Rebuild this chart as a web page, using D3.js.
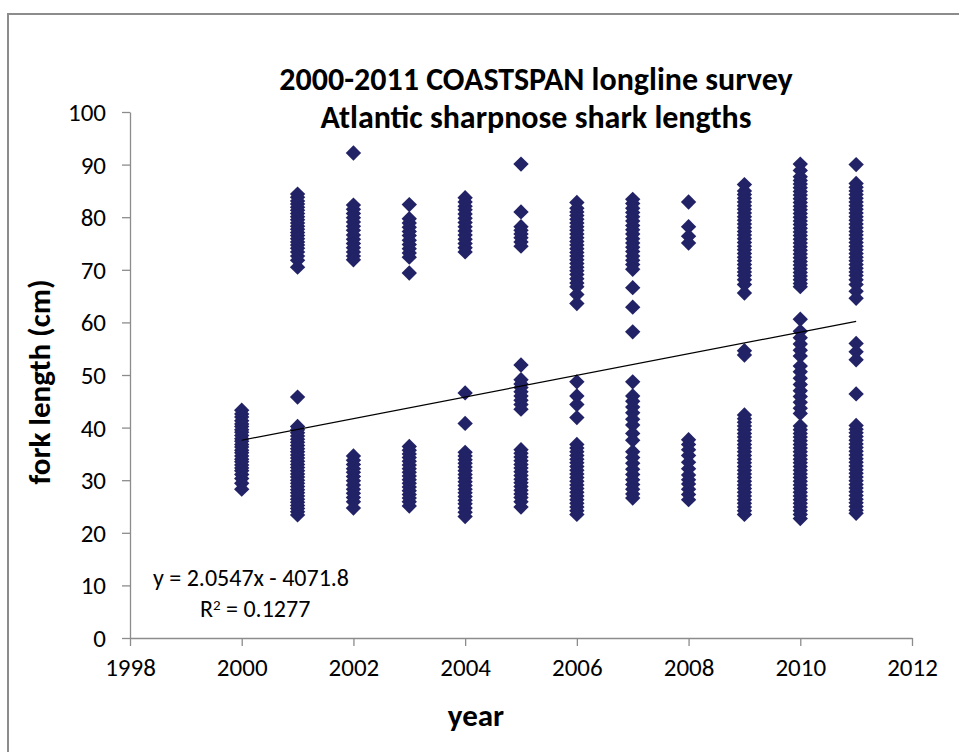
<!DOCTYPE html>
<html>
<head>
<meta charset="utf-8">
<script src="https://cdn.jsdelivr.net/npm/d3@7"></script>
<style>
  body { margin: 0; background: #fff; }
  svg { display: block; }
  text { font-family: Carlito, "Open Sans", "Noto Sans", sans-serif; fill: #000; }
</style>
</head>
<body>
<script>
const years = [2000, 2001, 2002, 2003, 2004, 2005, 2006, 2007, 2008, 2009, 2010, 2011];

// fork lengths (cm), one array per survey year
const len2000 = [43.3, 42.6, 42.0, 41.3, 40.7, 40.2, 39.6, 39.1, 38.5, 37.9, 37.4, 36.8, 36.3, 35.7, 35.2, 34.6, 34.0, 33.5, 32.9, 32.3, 31.8, 31.1, 30.3, 29.4, 28.3];
const len2001 = [84.4, 83.8, 83.1, 82.5, 81.9, 81.3, 80.7, 80.1, 79.5, 78.9, 78.3, 77.7, 77.1, 76.5, 75.9, 75.3, 74.7, 74.1, 73.4, 72.6, 71.8, 70.5, 45.8, 40.2, 39.6, 39.0, 38.4, 37.8, 37.2, 36.6, 36.0, 35.4, 34.8, 34.2, 33.6, 33.0, 32.4, 31.8, 31.2, 30.6, 30.0, 29.4, 28.8, 28.2, 27.6, 27.0, 26.4, 25.8, 25.2, 24.6, 24.0, 23.4];
const len2002 = [92.2, 82.3, 81.5, 80.7, 79.9, 79.1, 78.3, 77.5, 76.6, 75.8, 75.0, 74.2, 73.4, 72.6, 71.9, 34.6, 33.8, 33.0, 32.2, 31.5, 30.7, 29.9, 29.1, 28.3, 27.5, 26.7, 25.9, 24.7];
const len2003 = [82.4, 79.7, 78.9, 78.1, 77.3, 76.5, 75.6, 74.8, 74.0, 73.2, 72.4, 69.4, 36.4, 35.7, 35.0, 34.3, 33.6, 32.9, 32.2, 31.5, 30.8, 30.1, 29.4, 28.7, 28.0, 27.3, 26.6, 25.9, 25.1];
const len2004 = [83.7, 82.9, 82.1, 81.4, 80.6, 79.8, 79.0, 78.2, 77.4, 76.6, 75.8, 75.0, 74.2, 73.4, 46.6, 40.8, 35.3, 34.6, 33.9, 33.2, 32.5, 31.8, 31.1, 30.4, 29.7, 29.0, 28.3, 27.6, 26.9, 26.2, 25.5, 24.7, 23.9, 23.1];
const len2005 = [90.1, 81.0, 78.2, 77.5, 76.8, 76.1, 75.3, 74.5, 51.9, 49.1, 48.3, 47.6, 46.8, 46.0, 45.2, 44.4, 43.5, 35.8, 35.1, 34.4, 33.7, 33.0, 32.3, 31.6, 30.9, 30.2, 29.5, 28.8, 28.1, 27.4, 26.7, 25.9, 24.9];
const len2006 = [82.8, 81.7, 81.0, 80.3, 79.6, 78.9, 78.2, 77.5, 76.8, 76.1, 75.4, 74.7, 74.0, 73.3, 72.6, 71.9, 71.2, 70.5, 69.8, 69.1, 68.3, 67.5, 66.8, 65.3, 63.6, 48.7, 46.0, 44.4, 41.9, 36.8, 36.1, 35.4, 34.7, 34.0, 33.3, 32.6, 31.9, 31.2, 30.5, 29.8, 29.1, 28.4, 27.7, 27.0, 26.3, 25.6, 24.9, 24.2, 23.5];
const len2007 = [83.4, 82.6, 81.7, 80.9, 80.1, 79.3, 78.4, 77.6, 76.8, 75.9, 75.1, 74.3, 73.5, 72.6, 71.8, 71.0, 70.1, 66.6, 62.9, 58.2, 48.7, 46.0, 45.0, 43.9, 42.8, 41.6, 40.5, 38.9, 37.6, 35.4, 34.3, 33.2, 32.1, 31.1, 30.1, 29.2, 28.3, 27.4, 26.6];
const len2008 = [82.9, 78.2, 76.4, 75.1, 37.7, 36.8, 35.8, 34.7, 33.4, 32.2, 31.0, 30.1, 29.3, 28.3, 27.3, 26.3];
const len2009 = [86.2, 85.0, 84.3, 83.6, 82.9, 82.2, 81.5, 80.8, 80.1, 79.4, 78.7, 78.0, 77.3, 76.6, 75.9, 75.2, 74.5, 73.8, 73.1, 72.4, 71.7, 71.0, 70.3, 69.6, 68.9, 68.1, 67.2, 65.6, 54.6, 53.8, 42.4, 41.7, 41.0, 40.3, 39.6, 38.9, 38.2, 37.5, 36.8, 36.1, 35.4, 34.7, 34.0, 33.3, 32.6, 31.9, 31.2, 30.5, 29.8, 29.1, 28.4, 27.7, 27.0, 26.3, 25.6, 24.9, 24.2, 23.5];
const len2010 = [90.1, 88.9, 87.7, 87.0, 86.3, 85.6, 84.9, 84.2, 83.5, 82.8, 82.1, 81.4, 80.7, 80.0, 79.3, 78.6, 77.9, 77.2, 76.5, 75.8, 75.1, 74.4, 73.7, 73.0, 72.3, 71.6, 70.9, 70.2, 69.5, 68.8, 68.1, 67.4, 66.8, 60.6, 58.3, 57.1, 55.9, 54.7, 53.6, 51.7, 50.6, 49.4, 48.2, 47.0, 45.9, 44.8, 43.7, 42.7, 40.3, 39.6, 38.9, 38.2, 37.5, 36.8, 36.1, 35.4, 34.7, 34.0, 33.3, 32.6, 31.9, 31.2, 30.5, 29.8, 29.1, 28.4, 27.7, 27.0, 26.3, 25.6, 24.9, 24.2, 23.5, 22.7];
const len2011 = [90.0, 86.4, 85.7, 85.0, 84.3, 83.6, 82.9, 82.2, 81.5, 80.8, 80.1, 79.4, 78.7, 78.0, 77.3, 76.6, 75.9, 75.2, 74.5, 73.8, 73.1, 72.4, 71.7, 71.0, 70.3, 69.6, 68.9, 68.1, 67.2, 65.9, 64.6, 56.0, 54.4, 52.9, 46.4, 40.4, 39.7, 39.0, 38.3, 37.6, 36.9, 36.2, 35.5, 34.8, 34.1, 33.4, 32.7, 32.0, 31.3, 30.6, 29.9, 29.2, 28.5, 27.8, 27.1, 26.4, 25.7, 25.0, 24.3, 23.7];

const lengths = [len2000, len2001, len2002, len2003, len2004, len2005, len2006, len2007, len2008, len2009, len2010, len2011];

const xTicks = [1998, 2000, 2002, 2004, 2006, 2008, 2010, 2012];
const yTicks = [0, 10, 20, 30, 40, 50, 60, 70, 80, 90, 100];

// linear trend shown on the chart
const slope = 2.0547;
const intercept = -4071.8;

const w = 959;
const h = 752;
const font = 'Carlito, "Open Sans", "Noto Sans", sans-serif';

const xScale = d3.scaleLinear().domain([1998, 2012]).range([130, 912]);
const yScale = d3.scaleLinear().domain([0, 100]).range([638, 112]);

const svg = d3.select("body")
              .append("svg")
              .attr("width", w)
              .attr("height", h);

svg.append("rect")
   .attr("width", w).attr("height", h)
   .attr("fill", "#fff");

// chart frame (runs off the right and bottom of the picture)
svg.append("rect")
   .attr("x", 8).attr("y", 14)
   .attr("width", 1000).attr("height", 800)
   .attr("fill", "none")
   .attr("stroke", "#8c8c8c")
   .attr("stroke-width", 2);

const axisColor = "#8c8c8c";

const yAxis = svg.append("g")
   .attr("transform", "translate(130,0)")
   .call(d3.axisLeft(yScale).tickValues(yTicks).tickSize(8).tickSizeOuter(0).tickPadding(16));

const xAxis = svg.append("g")
   .attr("transform", "translate(0,638)")
   .call(d3.axisBottom(xScale).tickValues(xTicks).tickFormat(d3.format("d")).tickSize(8).tickSizeOuter(0).tickPadding(12));

[yAxis, xAxis].forEach(g => {
  g.selectAll("path, line").attr("stroke", axisColor).attr("stroke-width", 1.3);
  g.selectAll("text")
   .attr("fill", "#000")
   .style("font-size", "25px")
   .style("font-family", font);
});
yAxis.selectAll("text").attr("dy", "0.34em");

const points = years.flatMap((yr, i) => lengths[i].map(v => ({ year: yr, len: v })));

const diamond = d3.symbol().type(d3.symbolSquare).size(118);

svg.append("g")
   .selectAll("path")
   .data(points)
   .enter()
   .append("path")
   .attr("d", diamond)
   .attr("transform", d => `translate(${xScale(d.year)},${yScale(d.len)}) rotate(45)`)
   .attr("fill", "#222266");

// trend line
const x0 = d3.min(years);
const x1 = d3.max(years);
svg.append("line")
   .attr("x1", xScale(x0)).attr("y1", yScale(slope * x0 + intercept))
   .attr("x2", xScale(x1)).attr("y2", yScale(slope * x1 + intercept))
   .attr("stroke", "#000")
   .attr("stroke-width", 1.2);

// title
svg.append("text")
   .attr("x", 536).attr("y", 90)
   .attr("text-anchor", "middle")
   .style("font-size", "32px").style("font-weight", "bold")
   .text("2000-2011 COASTSPAN longline survey");
svg.append("text")
   .attr("x", 536).attr("y", 128)
   .attr("text-anchor", "middle")
   .style("font-size", "32px").style("font-weight", "bold")
   .text("Atlantic sharpnose shark lengths");

// axis titles
svg.append("text")
   .attr("transform", "translate(50,382) rotate(-90)")
   .attr("text-anchor", "middle")
   .style("font-size", "31px").style("font-weight", "bold")
   .text("fork length (cm)");
svg.append("text")
   .attr("x", 476).attr("y", 726)
   .attr("text-anchor", "middle")
   .style("font-size", "31px").style("font-weight", "bold")
   .text("year");

// equation
svg.append("text")
   .attr("x", 153).attr("y", 586)
   .style("font-size", "24px")
   .text("y = 2.0547x - 4071.8");
const r2 = svg.append("text")
   .attr("x", 200).attr("y", 617)
   .style("font-size", "24px");
r2.append("tspan").text("R");
r2.append("tspan").attr("dy", -7).style("font-size", "15px").text("2");
r2.append("tspan").attr("dy", 7).text(" = 0.1277");
</script>
</body>
</html>
